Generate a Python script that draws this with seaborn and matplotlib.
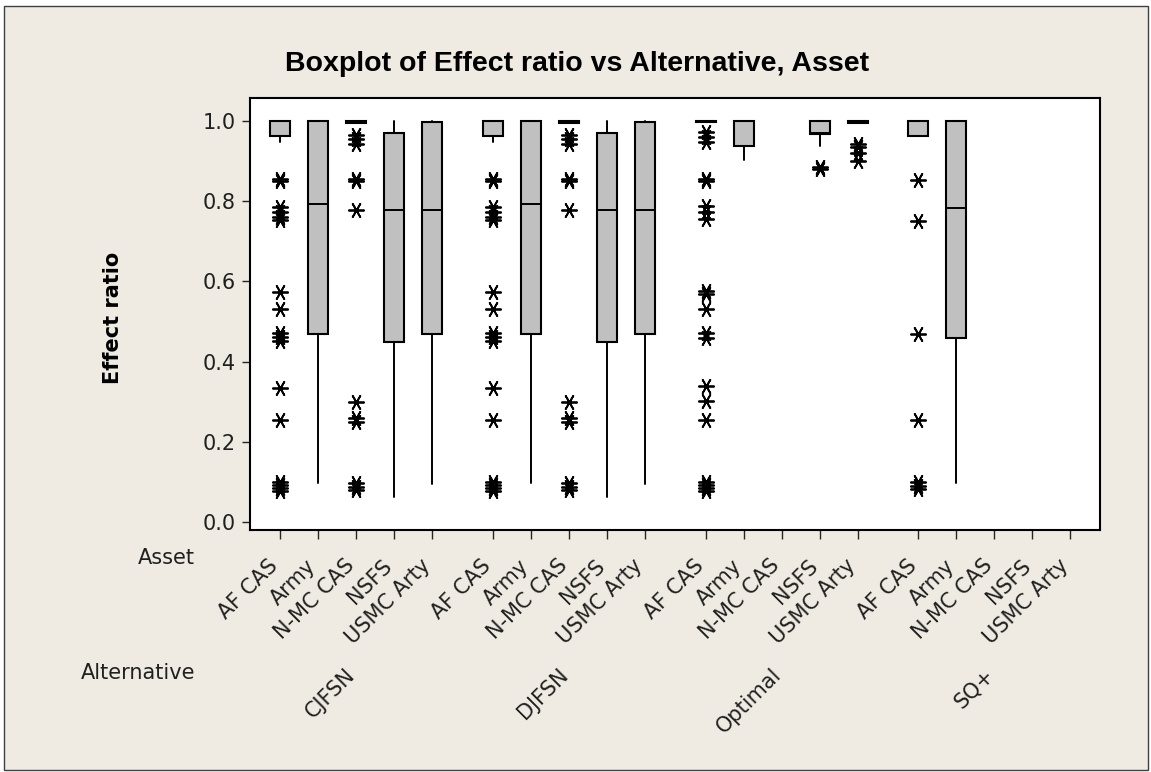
import matplotlib
matplotlib.use("Agg")
import matplotlib.pyplot as plt
import pandas as pd
import seaborn as sns
from matplotlib.patches import Rectangle
from matplotlib.transforms import ScaledTranslation, blended_transform_factory

# ---- data -----------------------------------------------------------------
alternatives = ["CJFSN", "DJFSN", "Optimal", "SQ+"]
assets = ["AF CAS", "Army", "N-MC CAS", "NSFS", "USMC Arty"]

# Box summaries, alternative-major (5 assets per alternative); None = no data
lower_whisker = [0.948, 0.097, 0.994, 0.063, 0.094,   # CJFSN
                 0.948, 0.097, 0.994, 0.063, 0.094,   # DJFSN
                 0.998, 0.903, None, 0.938, 0.995,    # Optimal
                 0.963, 0.098, None, None, None]      # SQ+
first_quartile = [0.963, 0.468, 0.994, 0.449, 0.468,
                  0.963, 0.468, 0.994, 0.449, 0.468,
                  0.998, 0.938, None, 0.968, 0.995,
                  0.963, 0.459, None, None, None]
median = [1.0, 0.793, 1.0, 0.779, 0.779,
          1.0, 0.793, 1.0, 0.779, 0.779,
          1.0, 1.0, None, 0.970, 1.0,
          1.0, 0.784, None, None, None]
third_quartile = [1.0, 1.0, 1.0, 0.969, 0.997,
                  1.0, 1.0, 1.0, 0.969, 0.997,
                  1.0, 1.0, None, 1.0, 1.0,
                  1.0, 1.0, None, None, None]
upper_whisker = [1.0, 1.0, 1.0, 1.0, 1.0,
                 1.0, 1.0, 1.0, 1.0, 1.0,
                 1.0, 1.0, None, 1.0, 1.0,
                 1.0, 1.0, None, None, None]

# Outlying observations for each box, same order as above
outliers = [
    # CJFSN
    [0.855, 0.850, 0.785, 0.772, 0.760, 0.752, 0.573, 0.532, 0.472, 0.462,
     0.452, 0.333, 0.253, 0.100, 0.092, 0.085, 0.078],
    [],
    [0.965, 0.955, 0.942, 0.855, 0.850, 0.778, 0.300, 0.258, 0.250, 0.098,
     0.088, 0.080],
    [],
    [],
    # DJFSN
    [0.855, 0.850, 0.785, 0.772, 0.760, 0.752, 0.573, 0.532, 0.472, 0.462,
     0.452, 0.333, 0.253, 0.100, 0.092, 0.085, 0.078],
    [],
    [0.965, 0.955, 0.942, 0.855, 0.850, 0.778, 0.300, 0.258, 0.250, 0.098,
     0.088, 0.080],
    [],
    [],
    # Optimal
    [0.972, 0.959, 0.947, 0.855, 0.850, 0.788, 0.772, 0.755, 0.576, 0.568,
     0.530, 0.472, 0.459, 0.338, 0.301, 0.255, 0.100, 0.092, 0.085, 0.078],
    [],
    [],
    [0.886, 0.880],
    [0.942, 0.935, 0.921, 0.901],
    # SQ+
    [0.853, 0.751, 0.468, 0.255, 0.100, 0.090, 0.082],
    [],
    [],
    [],
    [],
]

y_ticks = [0.0, 0.2, 0.4, 0.6, 0.8, 1.0]
y_tick_labels = ["0.0", "0.2", "0.4", "0.6", "0.8", "1.0"]

# ---- styling --------------------------------------------------------------
sns.set_theme(style="white")
plt.rcParams["font.family"] = ["DejaVu Sans"]

BG = "#EFEBE2"
BOX_FILL = "#C0C0C0"
TEXT = "#202020"
W, H = 1151, 772

fig = plt.figure(figsize=(W / 100, H / 100), dpi=100)
fig.patch.set_facecolor("white")
fig.patches.append(Rectangle((4 / W, 1 - 770 / H), 1144 / W, 764 / H,
                             transform=fig.transFigure, facecolor=BG,
                             edgecolor="#404040", linewidth=1.0, zorder=-10))

ax = fig.add_axes([250 / W, 1 - 530 / H, 850 / W, 432 / H])
ax.set_facecolor("white")

group_step = 5.6
n_assets = len(assets)
positions = [g * group_step + a for g in range(len(alternatives)) for a in range(n_assets)]

# ---- boxes ----------------------------------------------------------------
stats, box_pos = [], []
for i, p in enumerate(positions):
    if median[i] is None:
        continue
    stats.append(dict(whislo=lower_whisker[i], q1=first_quartile[i], med=median[i],
                      q3=third_quartile[i], whishi=upper_whisker[i], fliers=[]))
    box_pos.append(p)

ax.bxp(stats, positions=box_pos, widths=0.53, patch_artist=True,
       showcaps=False, showfliers=False,
       boxprops=dict(facecolor=BOX_FILL, edgecolor="black", linewidth=1.5),
       medianprops=dict(color="black", linewidth=1.4),
       whiskerprops=dict(color="black", linewidth=1.4))

# ---- outliers -------------------------------------------------------------
out_rows = []
for i, p in enumerate(positions):
    for v in outliers[i]:
        out_rows.append({"position": p, "Effect ratio": v})
out_df = pd.DataFrame(out_rows)
sns.scatterplot(data=out_df, x="position", y="Effect ratio", ax=ax,
                marker=(6, 2, 90), s=120, color="black", linewidth=1.3,
                legend=False, zorder=3)

# ---- axes -----------------------------------------------------------------
ax.set_xlim(-0.79, -0.79 + 850 / 38)
ax.set_ylim(-0.02, 1.057)
ax.set_xlabel("")
ax.set_ylabel("")
for s in ax.spines.values():
    s.set_color("black")
    s.set_linewidth(1.5)

ax.set_yticks(y_ticks)
ax.set_yticklabels(y_tick_labels, fontsize=15, color=TEXT)
ax.tick_params(axis="y", direction="out", length=6, width=1.0, pad=4, left=True)

ax.set_xticks(positions)
ax.set_xticklabels(assets * len(alternatives), fontsize=15, color=TEXT,
                   rotation=45, ha="right", va="center", rotation_mode="anchor")
ax.tick_params(axis="x", direction="out", length=6.5, width=1.0, pad=17, bottom=True)
shift = ScaledTranslation(-5 / 100, 0, fig.dpi_scale_trans)
for lab in ax.get_xticklabels():
    lab.set_transform(lab.get_transform() + shift)

# group labels under each alternative
trans = blended_transform_factory(ax.transData, fig.transFigure)
for g, alt in enumerate(alternatives):
    cx = g * group_step + (n_assets - 1) / 2
    ax.text(cx - 0.1, 1 - 672 / H, alt, transform=trans, fontsize=15,
            color=TEXT, rotation=45, ha="right", va="center",
            rotation_mode="anchor", clip_on=False)

fig.text(195 / W, 1 - 558 / H, "Asset", ha="right", va="center",
         fontsize=15, color=TEXT)
fig.text(195 / W, 1 - 673 / H, "Alternative", ha="right", va="center",
         fontsize=15, color=TEXT)

fig.text(113 / W, 1 - 318 / H, "Effect ratio", rotation=90, ha="center",
         va="center", fontsize=15, fontweight="bold", color="black")

fig.text(577 / W, 1 - 64 / H, "Boxplot of Effect ratio vs Alternative, Asset",
         ha="center", va="center", fontsize=20.5, fontweight="bold",
         family=["Liberation Sans", "DejaVu Sans"], color="black")

fig.savefig("out.png", dpi=100, facecolor=fig.get_facecolor())
